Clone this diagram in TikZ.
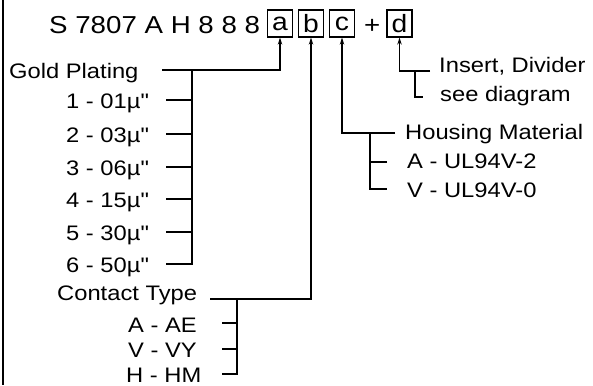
\documentclass[tikz,border=0pt]{standalone}
\usepackage{fontspec}
\newfontfamily\lib{Liberation Sans}[FakeStretch=1.13]
\usetikzlibrary{arrows.meta}
\begin{document}
\begin{tikzpicture}[x=1pt,y=-1pt,
  lbl/.style={anchor=base west, inner sep=0pt, font=\lib\fontsize{21}{25}\selectfont},
  ttl/.style={anchor=base west, inner sep=0pt, font=\lib\fontsize{24.5}{29}\selectfont},
  codebox/.style={draw, line width=1.3pt, minimum width=25pt, minimum height=27pt, inner sep=0pt, font=\lib\fontsize{25}{29}\selectfont},
  ln/.style={line width=1.4pt},
  arr/.style={ln, -{Stealth[length=7pt,width=4.5pt]}}]
\useasboundingbox (0,0) rectangle (593,385);
\draw[line width=2pt] (2.5,0) -- (2.5,385);
% title
\node[ttl] (title) at (49,34) {S 7807 A H 8 8 8};
\node[codebox] (a) at (280,23.5) {a};
\node[codebox] (b) at (311,23.5) {b};
\node[codebox] (c) at (342,23.5) {c};
\node[ttl] (plus) at (364,34) {+};
\node[codebox] (d) at (399.5,23.5) {d};
% gold plating
\node[lbl] (gold) at (9,78) {Gold Plating};
\node[lbl] (g1) at (66,108) {1 - 01µ"};
\node[lbl] (g2) at (66,142) {2 - 03µ"};
\node[lbl] (g3) at (66,175) {3 - 06µ"};
\node[lbl] (g4) at (66,207) {4 - 15µ"};
\node[lbl] (g5) at (66,240) {5 - 30µ"};
\node[lbl] (g6) at (66,272) {6 - 50µ"};
\coordinate (g0) at (162,70);
\coordinate (gv) at (192,70);
\coordinate (t1) at (166,100);
\coordinate (t2) at (166,134);
\coordinate (t3) at (166,167);
\coordinate (t4) at (166,199);
\coordinate (t5) at (166,232);
\coordinate (t6) at (166,264);
\draw[arr] (g0) -| (a.south);
\draw[ln] (gv) |- (t6);
\foreach \t in {t1,t2,t3,t4,t5} \draw[ln] (\t) -- (\t -| gv);
% contact type
\node[lbl] (ct) at (57,300) {Contact Type};
\node[lbl] (c1) at (128,332) {A - AE};
\node[lbl] (c2) at (128,357) {V - VY};
\node[lbl] (c3) at (126,382) {H - HM};
\coordinate (c0) at (210,299);
\coordinate (cv) at (237,299);
\coordinate (u1) at (222,323);
\coordinate (u2) at (222,349);
\coordinate (u3) at (222,374);
\draw[arr] (c0) -| (b.south);
\draw[ln] (cv) |- (u3);
\foreach \t in {u1,u2} \draw[ln] (\t) -- (\t -| cv);
% housing material
\node[lbl] (hm) at (405,139) {Housing Material};
\node[lbl] (h1t) at (407,168) {A - UL94V-2};
\node[lbl] (h2t) at (407,197) {V - UL94V-0};
\coordinate (h0) at (395,133);
\coordinate (hv) at (370,133);
\coordinate (h1) at (387,162);
\coordinate (h2) at (387,189);
\draw[arr] (h0) -| (c.south);
\draw[ln] (hv) |- (h2);
\draw[ln] (h1) -- (h1 -| hv);
% insert
\node[lbl] (ins) at (439,73) {Insert, Divider};
\node[lbl] (see) at (440,102) {see diagram};
\coordinate (i0) at (430,71);
\coordinate (iv) at (415,71);
\coordinate (i2) at (423,97);
\draw[arr] (i0) -| (d.south);
\draw[ln] (iv) |- (i2);
\end{tikzpicture}
\end{document}
